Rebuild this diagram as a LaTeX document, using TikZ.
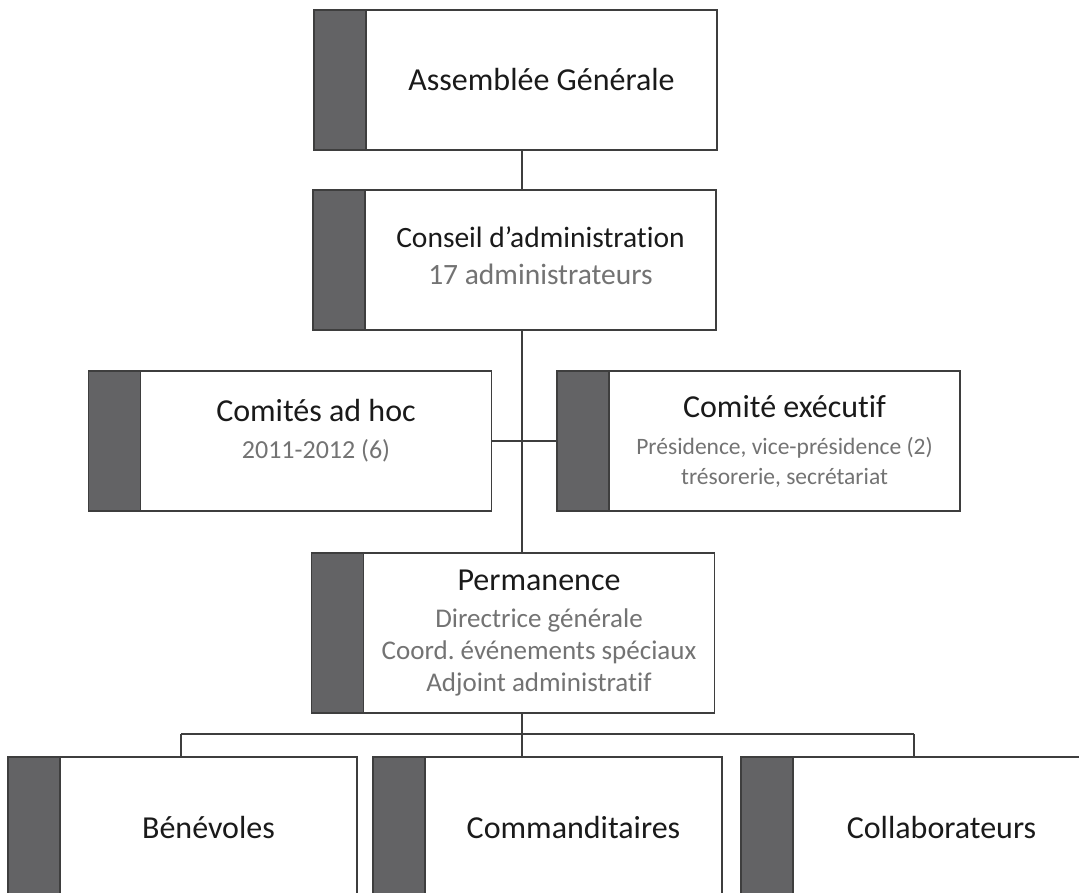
\documentclass[tikz,border=0pt]{standalone}
\usepackage{fontspec}
\setmainfont{Carlito}[Ligatures={TeX,NoCommon}]
\usepackage{xcolor}
\usetikzlibrary{positioning}
\frenchspacing

\definecolor{barfill}{RGB}{99,99,101}
\definecolor{linegray}{RGB}{62,62,62}
\definecolor{titlecol}{RGB}{26,26,26}
\definecolor{subgray}{RGB}{115,115,115}

% grey second lines, size as option
\newcommand{\subline}[2][27]{{\color{subgray}\fontsize{#1}{#1}\selectfont #2}}
% extra depth lifts a text block inside its card
\newcommand{\lift}[1]{\rule[-#1]{0pt}{#1}}

\tikzset{
	card/.style={shape=rectangle, draw=linegray, line width=1.5pt, fill=white, minimum width=351pt, minimum height=140pt, align=center, inner sep=0pt, outer sep=0pt, text=titlecol, font=\fontsize{32}{37}\selectfont},
	lowcard/.style={card, minimum width=297pt},
	cardbar/.style={shape=rectangle, draw=linegray, line width=1.5pt, fill=barfill, minimum width=52pt, minimum height=140pt, inner sep=0pt, outer sep=0pt},
	link/.style={draw=linegray, line width=1.5pt}
}

\begin{document}
\begin{tikzpicture}[x=1pt, y=-1pt]

	\useasboundingbox (0,0) rectangle (1079,892);
	\clip (0,0) rectangle (1079,892);

	% Boxes and their dark bars:
	\node[card] (ag) at (541.5, 80){Assemblée Générale};
	\node[cardbar, left=0pt of ag] (agbar){};
	\node[card, font=\fontsize{29.5}{37}\selectfont] (ca) at (540.5, 260){Conseil d’administration\\\subline[29.5]{17 administrateurs}\lift{8pt}};
	\node[cardbar, left=0pt of ca] (cabar){};
	\node[card] (cah) at (316, 441){Comités ad hoc\\\subline[26]{2011-2012 (6)}\lift{24pt}};
	\node[cardbar, left=0pt of cah] (cahbar){};
	\node[card] (ce) at (784.5, 441){Comité exécutif\\\subline[23.5]{Présidence, vice-présidence (2)}\\[-7pt]\subline[23.5]{trésorerie, secrétariat}};
	\node[cardbar, left=0pt of ce] (cebar){};
	\node[card, minimum height=160pt] (pe) at (539, 633){Permanence\\\subline{Directrice générale}\\[-5pt]\subline{Coord. événements spéciaux}\\[-5pt]\subline{Adjoint administratif}};
	\node[cardbar, minimum height=160pt, left=0pt of pe] (pebar){};
	\node[lowcard] (be) at (208.5, 827){Bénévoles};
	\node[cardbar, left=0pt of be] (bebar){};
	\node[lowcard] (co) at (573.5, 827){Commanditaires};
	\node[cardbar, left=0pt of co] (cobar){};
	\node[lowcard] (cl) at (941.5, 827){Collaborateurs};
	\node[cardbar, left=0pt of cl] (clbar){};

	% Connectors:
	\coordinate (trunk) at (522, 0);
	\coordinate (busl) at (181, 734);
	\coordinate (busr) at (914, 734);
	\draw[link] (ag.south -| trunk) -- (ca.north -| trunk);
	\draw[link] (ca.south -| trunk) -- (pe.north -| trunk);
	\draw[link] (cah.east) -- (cebar.west);
	\draw[link] (pe.south -| trunk) -- (co.north -| trunk);
	\draw[link] (busl) -- (busr);
	\draw[link] (busl) -- (busl |- be.north);
	\draw[link] (busr) -- (busr |- cl.north);

\end{tikzpicture}
\end{document}
